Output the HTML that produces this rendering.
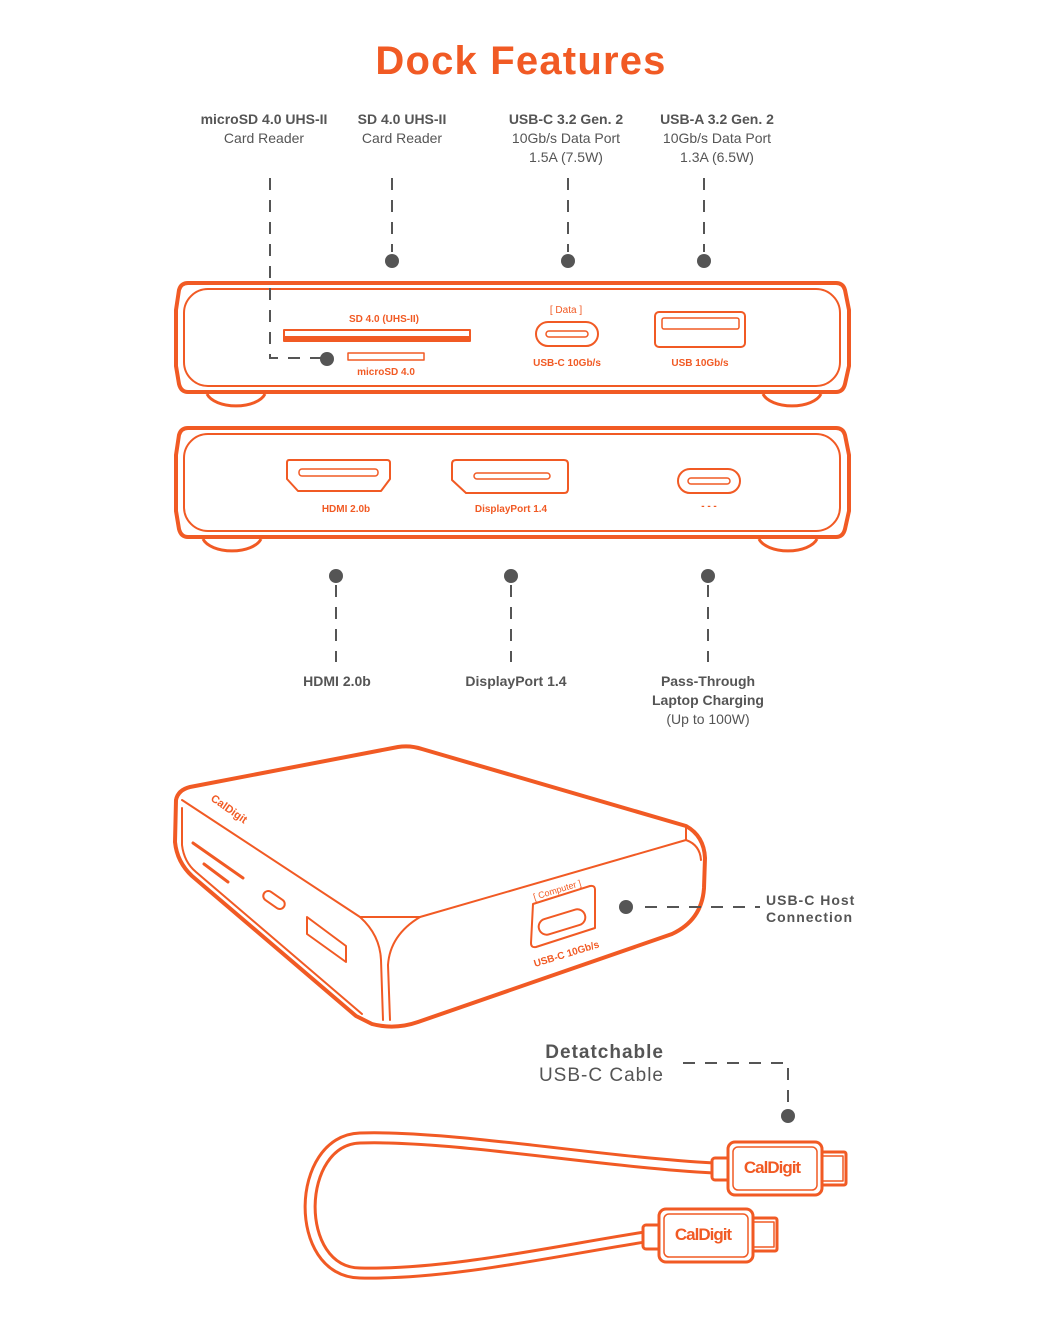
<!DOCTYPE html>
<html><head><meta charset="utf-8"><style>
html,body{margin:0;padding:0;background:#fff;}
svg{display:block;}
text{font-family:"Liberation Sans",sans-serif;}
</style></head><body>
<svg width="1042" height="1318" viewBox="0 0 1042 1318" xmlns="http://www.w3.org/2000/svg">
<text x="521" y="74" text-anchor="middle" font-size="40" font-weight="bold" fill="#f15a24" letter-spacing="1.2">Dock Features</text>

<g fill="#555" font-size="14" text-anchor="middle">
<text x="264" y="124" font-weight="bold">microSD 4.0 UHS-II</text><text x="264" y="143">Card Reader</text>
<text x="402" y="124" font-weight="bold">SD 4.0 UHS-II</text><text x="402" y="143">Card Reader</text>
<text x="566" y="124" font-weight="bold">USB-C 3.2 Gen. 2</text><text x="566" y="143">10Gb/s Data Port</text><text x="566" y="162">1.5A (7.5W)</text>
<text x="717" y="124" font-weight="bold">USB-A 3.2 Gen. 2</text><text x="717" y="143">10Gb/s Data Port</text><text x="717" y="162">1.3A (6.5W)</text>
<text x="337" y="686" font-weight="bold">HDMI 2.0b</text>
<text x="516" y="686" font-weight="bold">DisplayPort 1.4</text>
<text x="708" y="686" font-weight="bold">Pass-Through</text><text x="708" y="705" font-weight="bold">Laptop Charging</text><text x="708" y="724">(Up to 100W)</text>
</g>

<g stroke="#f15a24" fill="none" stroke-linejoin="round">
<!-- panel 1 -->
<path d="M207 394 A30 16 0 0 0 265 394" stroke-width="3"/>
<path d="M763 394 A30 16 0 0 0 821 394" stroke-width="3"/>
<path d="M188 283 H836 Q843 283 845 290 L849 310 V366 L845 384 Q843 392 836 392 H188 Q181 392 179 384 L176 366 V310 L179 290 Q181 283 188 283 Z" stroke-width="4" fill="#fff"/>
<rect x="184" y="289" width="656" height="97" rx="24" stroke-width="2"/>
<rect x="284" y="330" width="186" height="11" stroke-width="2"/>
<rect x="284" y="336" width="186" height="5" fill="#f15a24" stroke="none"/>
<rect x="348" y="353" width="76" height="7" stroke-width="1.5"/>
<rect x="536" y="322" width="62" height="24" rx="12" stroke-width="2"/>
<rect x="546" y="331" width="42" height="6" rx="3" stroke-width="1.5"/>
<rect x="655" y="312" width="90" height="35" rx="4" stroke-width="2"/>
<rect x="662" y="318" width="77" height="11" rx="2" stroke-width="1.5"/>
<!-- panel 2 -->
<path d="M203 539 A30 16 0 0 0 261 539" stroke-width="3"/>
<path d="M759 539 A30 16 0 0 0 817 539" stroke-width="3"/>
<path d="M188 428 H836 Q843 428 845 435 L849 455 V511 L845 529 Q843 537 836 537 H188 Q181 537 179 529 L176 511 V455 L179 435 Q181 428 188 428 Z" stroke-width="4" fill="#fff"/>
<rect x="184" y="434" width="656" height="97" rx="24" stroke-width="2"/>
<path d="M289 460 H387 Q390 460 390 463 V479 L381 491 H298 L287 479 V463 Q287 460 289 460 Z" stroke-width="2"/>
<rect x="299" y="469" width="79" height="7" rx="3" stroke-width="1.5"/>
<path d="M456 460 H564 Q568 460 568 464 V489 Q568 493 564 493 H466 L452 480 V464 Q452 460 456 460 Z" stroke-width="2"/>
<rect x="474" y="473" width="76" height="6" rx="3" stroke-width="1.5"/>
<rect x="678" y="469" width="62" height="24" rx="12" stroke-width="2"/>
<rect x="688" y="478" width="42" height="6" rx="3" stroke-width="1.5"/>
</g>
<g fill="#f15a24" font-weight="bold" font-size="10" text-anchor="middle">
<text x="384" y="322">SD  4.0  (UHS-II)</text>
<text x="386" y="375">microSD  4.0</text>
<text x="566" y="313" font-weight="normal">[ Data ]</text>
<text x="567" y="366">USB-C 10Gb/s</text>
<text x="700" y="366">USB 10Gb/s</text>
<text x="346" y="512">HDMI 2.0b</text>
<text x="511" y="512">DisplayPort 1.4</text>
<text x="709" y="509">- - -</text>
</g>

<!-- 3D dock -->
<g stroke="#f15a24" fill="none" stroke-linejoin="round" stroke-linecap="round">
<path d="M176 800 Q178 790 190 787 L398 747 Q410 745 422 749 L686 826 Q704 836 705 858 L704 888 Q702 920 672 934 L418 1022 Q395 1030 372 1024 L356 1016 L192 876 Q177 862 175 842 Z" stroke-width="4" fill="#fff"/>
<path d="M182 800 L360 917 L420 917 L686 840" stroke-width="2"/>
<path d="M182 808 L182 845 Q184 862 196 872 L362 1014" stroke-width="2"/>
<path d="M360 917 Q380 935 381 960 L383 1020" stroke-width="2"/>
<path d="M420 917 Q390 935 388 965 L390 1020" stroke-width="2"/>
<path d="M686 840 Q700 845 701 860" stroke-width="2"/>
<path d="M686 826 V840" stroke-width="2"/>
<path d="M193 843 L243 878 M204 864 L228 882" stroke-width="3"/>
<rect x="262" y="895" width="24" height="10" rx="5" transform="rotate(35 274 900)" stroke-width="2"/>
<path d="M307 917 L346 946 V962 L307 934 Z" stroke-width="2"/>
<path d="M533 904 L590 886 Q595 885 595 890 V928 L536 947 Q531 948 531 943 Z" stroke-width="2"/>
<rect x="538" y="914" width="48" height="16" rx="8" transform="rotate(-17 562 922)" stroke-width="2"/>
</g>
<g fill="#f15a24" font-weight="bold">
<text x="210" y="800" font-size="11" transform="rotate(35 210 800)">CalDigit</text>
<text x="535" y="902" font-size="9" font-weight="normal" transform="rotate(-17 535 902) translate(0 -2)">[ Computer ]</text>
<text x="535" y="967" font-size="10" transform="rotate(-17 535 967)">USB-C 10Gb/s</text>
</g>
<text x="766" y="905" font-size="14" font-weight="bold" fill="#555" letter-spacing="1">USB-C Host</text>
<text x="766" y="922" font-size="14" font-weight="bold" fill="#555" letter-spacing="1">Connection</text>
<text x="664" y="1058" font-size="19" font-weight="bold" fill="#555" text-anchor="end" letter-spacing="1">Detatchable</text>
<text x="664" y="1081" font-size="19" fill="#555" text-anchor="end" letter-spacing="1">USB-C Cable</text>

<!-- cable -->
<g fill="none" stroke-linecap="round">
<path d="M714 1168 C600 1162 450 1135 360 1138 C295 1140 292 1272 360 1273 C450 1275 560 1250 645 1237" stroke="#f15a24" stroke-width="13"/>
<path d="M714 1168 C600 1162 450 1135 360 1138 C295 1140 292 1272 360 1273 C450 1275 560 1250 645 1237" stroke="#fff" stroke-width="7"/>
</g>
<g stroke="#f15a24" stroke-width="3" fill="#fff" stroke-linejoin="round">
<rect x="712" y="1158" width="18" height="22" rx="3"/>
<rect x="815" y="1152" width="31" height="33" rx="2"/>
<rect x="818" y="1156" width="25" height="25" stroke-width="1.5"/>
<rect x="728" y="1142" width="94" height="53" rx="7"/>
<rect x="733" y="1147" width="84" height="43" rx="5" stroke-width="1.5"/>
<rect x="643" y="1225" width="18" height="24" rx="3"/>
<rect x="746" y="1218" width="31" height="33" rx="2"/>
<rect x="749" y="1222" width="25" height="25" stroke-width="1.5"/>
<rect x="659" y="1209" width="94" height="53" rx="7"/>
<rect x="664" y="1214" width="84" height="43" rx="5" stroke-width="1.5"/>
</g>
<text x="772" y="1173" font-size="17" font-weight="bold" fill="#f15a24" text-anchor="middle" letter-spacing="-1">CalDigit</text>
<text x="703" y="1240" font-size="17" font-weight="bold" fill="#f15a24" text-anchor="middle" letter-spacing="-1">CalDigit</text>

<!-- leaders on top -->
<g stroke="#555" stroke-width="2" stroke-dasharray="12 10" fill="none">
<path d="M270 178 V358 H322"/>
<path d="M392 178 V252"/><path d="M568 178 V252"/><path d="M704 178 V252"/>
<path d="M336 585 V662"/><path d="M511 585 V662"/><path d="M708 585 V662"/>
<path d="M645 907 H760"/>
<path d="M683 1063 H788 V1104"/>
</g>
<g fill="#555">
<circle cx="327" cy="359" r="7"/><circle cx="392" cy="261" r="7"/><circle cx="568" cy="261" r="7"/><circle cx="704" cy="261" r="7"/>
<circle cx="336" cy="576" r="7"/><circle cx="511" cy="576" r="7"/><circle cx="708" cy="576" r="7"/>
<circle cx="626" cy="907" r="7"/><circle cx="788" cy="1116" r="7"/>
</g>
</svg>
</body></html>
